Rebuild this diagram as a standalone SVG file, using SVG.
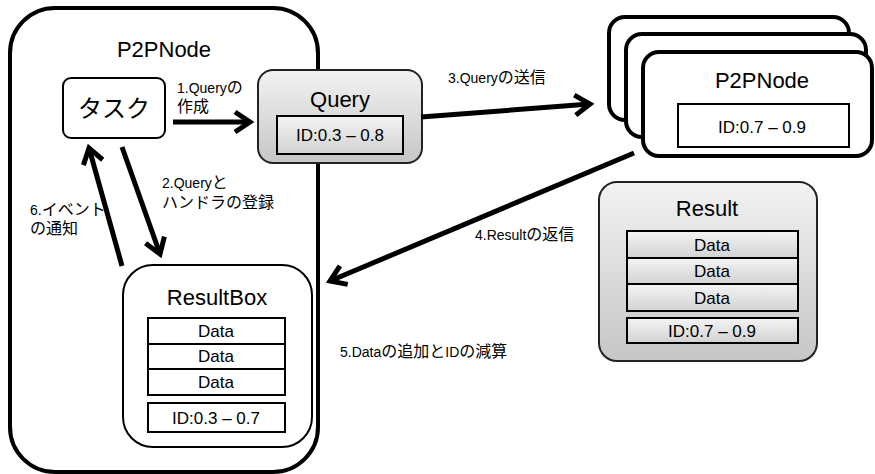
<svg xmlns="http://www.w3.org/2000/svg" width="875" height="474" viewBox="0 0 875 474">
  <defs>
    <linearGradient id="gBox" x1="0" y1="0" x2="0" y2="1">
      <stop offset="0" stop-color="#f2f2f2"/>
      <stop offset="1" stop-color="#c6c6c6"/>
    </linearGradient>
    <linearGradient id="gCell" x1="0" y1="0" x2="0" y2="1">
      <stop offset="0" stop-color="#f4f4f4"/>
      <stop offset="1" stop-color="#d2d2d2"/>
    </linearGradient>
    <marker id="ah" viewBox="-20 -14 26 28" refX="0" refY="0" markerWidth="26" markerHeight="28" markerUnits="userSpaceOnUse" orient="auto">
      <path d="M-15,-10 L0,0 L-15,10" fill="none" stroke="#000" stroke-width="5"/>
    </marker>
    <style>
      text { font-family: "Liberation Sans", "Noto Sans CJK JP", sans-serif; fill: #000; }
      .title { font-size: 22px; text-anchor: middle; }
      .cell { font-size: 17px; text-anchor: middle; }
      .lbl { font-size: 16px; }
      .lat { font-size: 14px; }
      .heavy { fill: #fff; stroke: #000; stroke-width: 4; }
      .plain { fill: #fff; stroke: #000; stroke-width: 2; }
      .shaded { fill: url(#gBox); stroke: #222; stroke-width: 2; }
      .row { fill: url(#gCell); stroke: #000; stroke-width: 2; }
      .wrow { fill: #fff; stroke: #000; stroke-width: 2; }
      .arrow { fill: none; stroke: #000; stroke-width: 5; marker-end: url(#ah); }
    </style>
  </defs>

  <!-- local peer container -->
  <g id="p2pnode-local">
    <rect class="heavy" x="10" y="8" width="308" height="464" rx="45"/>
    <text class="title" x="164" y="57">P2PNode</text>
  </g>

  <!-- task -->
  <g id="task">
    <rect class="plain" x="63" y="78" width="102" height="60" rx="8"/>
    <text x="114" y="117" font-size="24" text-anchor="middle">タスク</text>
  </g>

  <!-- query object -->
  <g id="query">
    <rect class="shaded" x="258" y="70" width="164" height="93" rx="15"/>
    <text class="title" x="340" y="107" font-size="24">Query</text>
    <rect class="row" x="277" y="116" width="126" height="38"/>
    <text class="cell" x="340" y="141" font-size="18">ID:0.3 – 0.8</text>
  </g>

  <!-- result box held by the local peer -->
  <g id="resultbox">
    <rect class="plain" x="123" y="265" width="189" height="182" rx="30"/>
    <text class="title" x="217" y="305">ResultBox</text>
    <rect class="wrow" x="148" y="318" width="137" height="26"/>
    <rect class="wrow" x="148" y="344" width="137" height="25"/>
    <rect class="wrow" x="148" y="369" width="137" height="26"/>
    <text class="cell" x="216" y="337">Data</text>
    <text class="cell" x="216" y="362">Data</text>
    <text class="cell" x="216" y="388">Data</text>
    <rect class="wrow" x="148" y="403" width="137" height="29"/>
    <text class="cell" x="216" y="424">ID:0.3 – 0.7</text>
  </g>

  <!-- remote peers (stacked) -->
  <g id="p2pnode-remote">
    <rect class="heavy" x="609" y="17" width="240" height="103" rx="16"/>
    <rect class="heavy" x="626" y="34" width="240" height="103" rx="16"/>
    <rect class="heavy" x="643" y="52" width="229" height="104" rx="16"/>
    <text class="title" x="762" y="88">P2PNode</text>
    <rect class="plain" x="678" y="104" width="171" height="43"/>
    <text class="cell" x="762" y="133" font-size="18">ID:0.7 – 0.9</text>
  </g>

  <!-- result object -->
  <g id="result">
    <rect class="shaded" x="599" y="182" width="218" height="179" rx="18"/>
    <text class="title" x="707" y="216">Result</text>
    <rect class="row" x="627" y="231" width="171" height="27"/>
    <rect class="row" x="627" y="258" width="171" height="26"/>
    <rect class="row" x="627" y="284" width="171" height="27"/>
    <text class="cell" x="712" y="251">Data</text>
    <text class="cell" x="712" y="277">Data</text>
    <text class="cell" x="712" y="304">Data</text>
    <rect class="row" x="627" y="318" width="171" height="25"/>
    <text class="cell" x="712" y="337">ID:0.7 – 0.9</text>
  </g>

  <!-- connectors and their labels -->
  <g id="connectors">
    <line class="arrow" x1="173" y1="122" x2="250" y2="122"/>
    <text class="lbl" x="177" y="93"><tspan class="lat">1.Query</tspan>の</text>
    <text class="lbl" x="177" y="112">作成</text>

    <line class="arrow" x1="122" y1="147" x2="160" y2="254"/>
    <text class="lbl" x="162" y="188"><tspan class="lat">2.Query</tspan>と</text>
    <text class="lbl" x="162" y="208">ハンドラの登録</text>

    <line class="arrow" x1="421" y1="117" x2="590" y2="104"/>
    <text class="lbl" x="448" y="83"><tspan class="lat">3.Query</tspan>の送信</text>

    <line class="arrow" x1="634" y1="153" x2="330" y2="281"/>
    <text class="lbl" x="475" y="240"><tspan class="lat">4.Result</tspan>の返信</text>

    <text class="lbl" x="340" y="357"><tspan class="lat">5.Data</tspan>の追加と<tspan class="lat">ID</tspan>の減算</text>

    <line class="arrow" x1="122" y1="266" x2="89" y2="148"/>
    <text class="lbl" x="30" y="215"><tspan class="lat">6.</tspan>イベント</text>
    <text class="lbl" x="30" y="234">の通知</text>
  </g>
</svg>
